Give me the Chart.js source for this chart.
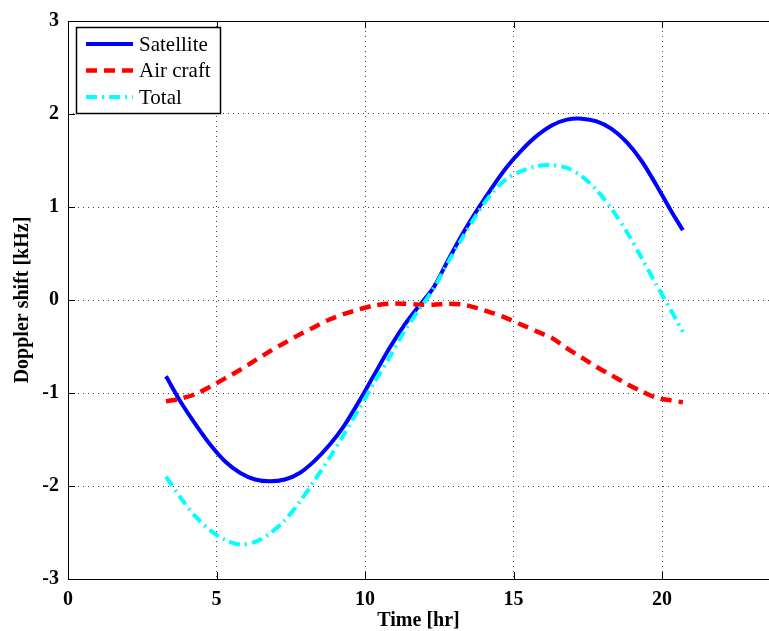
<!DOCTYPE html>
<html>
<head>
<meta charset="utf-8">
<script src="https://cdn.jsdelivr.net/npm/chart.js@4/dist/chart.umd.min.js"></script>
<style>
  html, body { margin: 0; padding: 0; background: #fff; }
  #wrap { width: 769px; height: 631px; }
</style>
</head>
<body>
<div id="wrap"><canvas id="cDoppler"></canvas></div>
<script>
const timeHr = [3.3,3.8,4.3,4.8,5.3,5.8,6.3,6.8,7.3,7.8,8.3,8.8,9.3,9.8,10.3,10.8,11.3,11.8,12.3,12.8,
                13.3,13.8,14.3,14.8,15.3,15.8,16.3,16.8,17.3,17.8,18.3,18.8,19.3,19.8,20.3,20.7];
const satellite = [-0.82,-1.10,-1.34,-1.56,-1.74,-1.86,-1.93,-1.95,-1.93,-1.86,-1.73,-1.56,-1.35,-1.09,-0.81,-0.53,-0.28,-0.07,0.13,0.43,
                   0.72,0.98,1.22,1.44,1.62,1.77,1.88,1.94,1.95,1.92,1.84,1.70,1.50,1.24,0.96,0.75];
const aircraft  = [-1.09,-1.06,-1.01,-0.93,-0.84,-0.75,-0.65,-0.55,-0.46,-0.37,-0.29,-0.21,-0.15,-0.10,-0.06,-0.04,-0.04,-0.05,-0.05,-0.04,
                   -0.05,-0.09,-0.14,-0.20,-0.27,-0.34,-0.41,-0.52,-0.62,-0.72,-0.81,-0.90,-0.98,-1.05,-1.08,-1.10];
const total     = [-1.90,-2.13,-2.33,-2.48,-2.58,-2.63,-2.60,-2.51,-2.37,-2.17,-1.94,-1.70,-1.44,-1.17,-0.89,-0.63,-0.35,-0.11,0.12,0.41,
                   0.68,0.94,1.16,1.31,1.39,1.44,1.45,1.42,1.33,1.18,0.98,0.74,0.46,0.17,-0.11,-0.34];
const seriesNames = ['Satellite', 'Air craft', 'Total'];
const xTicks = [0, 5, 10, 15, 20];
const yTicks = [-3, -2, -1, 0, 1, 2, 3];

const FONT = "'Liberation Serif', 'Times New Roman', serif";
const pts = ys => timeHr.map((t, i) => ({ x: t, y: ys[i] }));

// frame + inward ticks like the original axes box
const framePlugin = {
  id: 'frame',
  afterDatasetsDraw(chart) {
    const { ctx, chartArea: a, scales: { x, y } } = chart;
    ctx.save();
    ctx.strokeStyle = '#000';
    ctx.lineWidth = 1;
    ctx.beginPath();
    ctx.moveTo(a.left + 0.5, a.bottom + 0.5);
    ctx.lineTo(a.left + 0.5, a.top + 0.5);
    ctx.lineTo(a.right + 0.5, a.top + 0.5);
    ctx.lineTo(a.right + 0.5, a.bottom + 0.5);
    ctx.lineTo(a.left + 0.5, a.bottom + 0.5);
    ctx.stroke();
    ctx.beginPath();
    xTicks.forEach(v => {
      const px = Math.round(x.getPixelForValue(v)) + 0.5;
      ctx.moveTo(px, a.bottom); ctx.lineTo(px, a.bottom - 7);
      ctx.moveTo(px, a.top); ctx.lineTo(px, a.top + 7);
    });
    yTicks.forEach(v => {
      const py = Math.round(y.getPixelForValue(v)) + 0.5;
      ctx.moveTo(a.left, py); ctx.lineTo(a.left + 7, py);
    });
    ctx.stroke();
    ctx.restore();
  }
};

// legend box in the upper left corner
const legendPlugin = {
  id: 'boxLegend',
  afterDraw(chart) {
    const { ctx, chartArea: a } = chart;
    const bx = a.left + 8, by = a.top + 6, bw = 144, bh = 86;
    ctx.save();
    ctx.fillStyle = '#fff';
    ctx.fillRect(bx, by, bw, bh);
    ctx.strokeStyle = '#000';
    ctx.lineWidth = 1.5;
    ctx.strokeRect(bx + 0.5, by + 0.5, bw, bh);
    ctx.font = '21px ' + FONT;
    ctx.textBaseline = 'middle';
    chart.data.datasets.forEach((ds, i) => {
      const ly = by + 17 + i * 26.5;
      ctx.beginPath();
      ctx.strokeStyle = ds.borderColor;
      ctx.lineWidth = ds.borderWidth;
      ctx.setLineDash(ds.borderDash || []);
      ctx.moveTo(bx + 10, ly);
      ctx.lineTo(bx + 57, ly);
      ctx.stroke();
      ctx.setLineDash([]);
      ctx.fillStyle = '#000';
      ctx.fillText(ds.label, bx + 63, ly + 1);
    });
    ctx.restore();
  }
};

new Chart(document.getElementById('cDoppler'), {
  type: 'line',
  data: {
    datasets: [
      { label: seriesNames[0], data: pts(satellite), borderColor: '#0000ff', borderWidth: 4, order: 3 },
      { label: seriesNames[1], data: pts(aircraft),  borderColor: '#ff0000', borderWidth: 4.5, borderDash: [11, 7], order: 2 },
      { label: seriesNames[2], data: pts(total),     borderColor: '#00ffff', borderWidth: 4, borderDash: [11, 5, 2, 5], order: 1 },
    ],
  },
  options: {
    responsive: true, maintainAspectRatio: false, animation: false,
    layout: { padding: { top: 17, right: 0, left: 11, bottom: 0 } },
    elements: { point: { radius: 0 }, line: { tension: 0.3, fill: false } },
    plugins: { legend: { display: false }, tooltip: { enabled: false } },
    scales: {
      x: {
        type: 'linear', min: 0, max: 23.6,
        afterBuildTicks: s => { s.ticks = xTicks.map(v => ({ value: v })); },
        afterFit: s => { s.height = 52; },
        grid: { color: '#444', lineWidth: 1, drawTicks: false },
        border: { display: false, dash: [1, 4] },
        ticks: { color: '#000', padding: 9, font: { family: FONT, size: 20, weight: 'bold' } },
        title: { display: true, text: 'Time [hr]', color: '#000', padding: { top: 0, bottom: -2 }, font: { family: FONT, size: 20, weight: 'bold' } },
      },
      y: {
        type: 'linear', min: -3, max: 3,
        afterBuildTicks: s => { s.ticks = yTicks.map(v => ({ value: v })); },
        afterFit: s => { s.width = 57; },
        grid: { color: '#444', lineWidth: 1, drawTicks: false },
        border: { display: false, dash: [1, 4] },
        ticks: { color: '#000', padding: 9, font: { family: FONT, size: 20, weight: 'bold' } },
        title: { display: true, text: 'Doppler shift [kHz]', color: '#000', padding: { top: 0, bottom: 0 }, font: { family: FONT, size: 20, weight: 'bold' } },
      },
    },
  },
  plugins: [framePlugin, legendPlugin],
});
</script>
</body>
</html>
